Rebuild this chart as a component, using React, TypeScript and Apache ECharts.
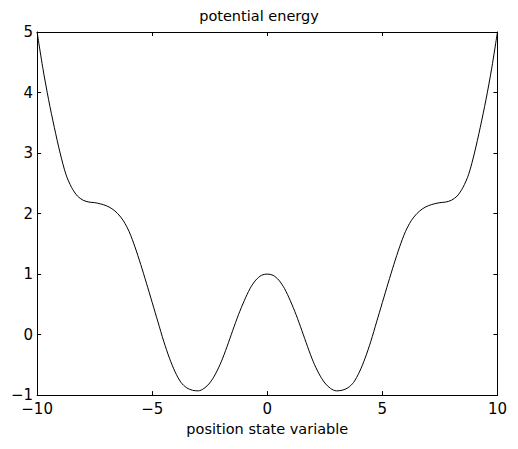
import React, { useEffect, useRef } from "react";
import * as echarts from "echarts";

const xValues = [
  -10, -9.75, -9.5, -9.25, -9, -8.75, -8.5, -8.25, -8, -7.75, -7.5, -7.25, -7, -6.75, -6.5, -6.25,
  -6, -5.75, -5.5, -5.25, -5, -4.75, -4.5, -4.25, -4, -3.75, -3.5, -3.25, -3, -2.75, -2.5, -2.25,
  -2, -1.75, -1.5, -1.25, -1, -0.75, -0.5, -0.25, 0,
  0.25, 0.5, 0.75, 1, 1.25, 1.5, 1.75, 2, 2.25, 2.5, 2.75, 3, 3.25, 3.5, 3.75, 4, 4.25, 4.5, 4.75,
  5, 5.25, 5.5, 5.75, 6, 6.25, 6.5, 6.75, 7, 7.25, 7.5, 7.75, 8, 8.25, 8.5, 8.75, 9, 9.25, 9.5, 9.75, 10,
];

const energyValues = [
  5.0, 4.4, 3.88, 3.42, 3.0, 2.65, 2.43, 2.29, 2.22, 2.19, 2.18, 2.16, 2.13, 2.08, 2.0, 1.88,
  1.7, 1.45, 1.16, 0.85, 0.53, 0.21, -0.11, -0.39, -0.62, -0.79, -0.88, -0.92, -0.93, -0.89, -0.8, -0.65,
  -0.45, -0.2, 0.07, 0.33, 0.56, 0.76, 0.9, 0.98, 1.0,
  0.98, 0.9, 0.76, 0.56, 0.33, 0.07, -0.2, -0.45, -0.65, -0.8, -0.89, -0.93, -0.92, -0.88, -0.79, -0.62, -0.39, -0.11, 0.21,
  0.53, 0.85, 1.16, 1.45, 1.7, 1.88, 2.0, 2.08, 2.13, 2.16, 2.18, 2.19, 2.22, 2.29, 2.43, 2.65, 3.0, 3.42, 3.88, 4.4, 5.0,
];

const chartTitle = "potential energy";
const xAxisTitle = "position state variable";

const FONT = "DejaVu Sans";
const minusFmt = (v: number) => String(v).replace("-", "\u2212");

export default function App() {
  const ref = useRef<HTMLDivElement>(null);
  useEffect(() => {
    if (!ref.current) return;
    const chart = echarts.init(ref.current, null, { renderer: "svg" });
    const data = xValues.map((x, i) => [x, energyValues[i]]);
    const axisLine = { show: true, onZero: false, lineStyle: { color: "#000", width: 1 } };
    const tick = { show: true, inside: true, length: 4, lineStyle: { color: "#000", width: 1 } };
    chart.setOption({
      animation: false,
      backgroundColor: "#fff",
      title: {
        text: chartTitle,
        left: "center",
        top: 0,
        padding: [0, 0, 0, 0],
        textStyle: { fontFamily: FONT, fontSize: 14.5, fontWeight: "normal", color: "#000" },
      },
      grid: { left: 23, top: 24, width: 477, height: 376, containLabel: false },
      xAxis: [
        {
          type: "value",
          min: -10,
          max: 10,
          interval: 5,
          position: "bottom",
          axisLine,
          axisTick: tick,
          splitLine: { show: false },
          axisLabel: { color: "#000", fontFamily: FONT, fontSize: 15, margin: 6, formatter: minusFmt },
          name: xAxisTitle,
          nameLocation: "middle",
          nameGap: 19,
          nameTextStyle: { color: "#000", fontFamily: FONT, fontSize: 14.5 },
        },
        {
          type: "value",
          min: -10,
          max: 10,
          interval: 5,
          position: "top",
          axisLine,
          axisTick: tick,
          splitLine: { show: false },
          axisLabel: { show: false },
        },
      ],
      yAxis: [
        {
          type: "value",
          min: -1,
          max: 5,
          interval: 1,
          position: "left",
          axisLine,
          axisTick: tick,
          splitLine: { show: false },
          axisLabel: { color: "#000", fontFamily: FONT, fontSize: 15, margin: 4, formatter: minusFmt },
        },
        {
          type: "value",
          min: -1,
          max: 5,
          interval: 1,
          position: "right",
          axisLine,
          axisTick: tick,
          splitLine: { show: false },
          axisLabel: { show: false },
        },
      ],
      series: [
        {
          type: "line",
          data,
          showSymbol: false,
          smooth: 0.3,
          lineStyle: { color: "#000", width: 1 },
        },
      ],
    });
    return () => chart.dispose();
  }, []);
  return <div ref={ref} style={{ width: 502, height: 433 }} />;
}
